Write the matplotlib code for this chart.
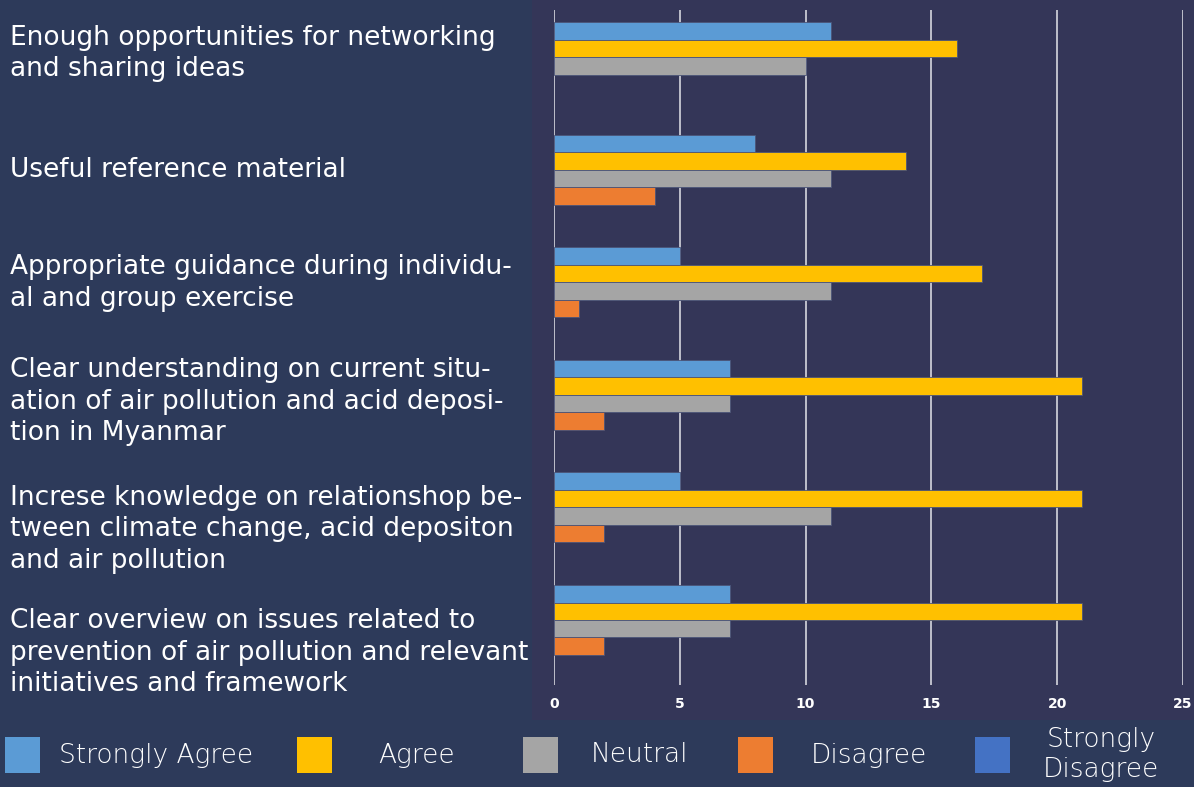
import numpy as np
import matplotlib.pyplot as plt
from matplotlib.patches import Rectangle

''' Data '''
categories = [
    'Enough opportunities for networking\nand sharing ideas',
    'Useful reference material',
    'Appropriate guidance during individu-\nal and group exercise',
    'Clear understanding on current situ-\nation of air pollution and acid deposi-\ntion in Myanmar',
    'Increse knowledge on relationshop be-\ntween climate change, acid depositon\nand air pollution',
    'Clear overview on issues related to\nprevention of air pollution and relevant\ninitiatives and framework',
]
series = ['Strongly Agree', 'Agree', 'Neutral', 'Disagree', 'Strongly\nDisagree']
strongly_agree = [11, 8, 5, 7, 5, 7]
agree = [16, 14, 17, 21, 21, 21]
neutral = [10, 11, 11, 7, 11, 7]
disagree = [0, 4, 1, 2, 2, 2]
strongly_disagree = [0, 0, 0, 0, 0, 0]
xticks = [0, 5, 10, 15, 20, 25]

''' Style '''
colors = ['#5B9BD5', '#FFC000', '#A5A5A5', '#ED7D31', '#4472C4']
bgLeft = '#2D3A5A'
bgPlot = '#343658'
gridColor = '#C9CAD4'
# vertical nudge of category labels in pixels (labels are placed by hand in the original)
labelNudge = [12, 8, 8, 2, -13, -24]
legendPatchX = [5, 297, 523, 738, 975]
legendTextX = [156, 417, 640, 869, 1101]

W, H = 1194, 787
fig = plt.figure(figsize=(W / 100, H / 100), dpi=100, facecolor=bgLeft)
fig.add_artist(Rectangle((532 / W, 1 - 720 / H), 1 - 532 / W, 720 / H,
                         transform=fig.transFigure, facecolor=bgPlot, edgecolor='none', zorder=0))

ax = fig.add_axes([554 / W, 1 - 685 / H, (1183 - 554) / W, (685 - 9.5) / H])
ax.set_facecolor('none')

values = [strongly_agree, agree, neutral, disagree, strongly_disagree]
y = np.arange(len(categories))
h = 0.155
for j, (vals, col) in enumerate(zip(values, colors)):
    edges = ['#4B5478' if v > 0 else 'none' for v in vals]
    ax.barh(y + (j - 2) * h, vals, height=h, color=col, edgecolor=edges, linewidth=0.6, zorder=3)

ax.set_xlim(0, 25)
ax.set_ylim(len(categories) - 0.5, -0.5)
ax.set_xticks(xticks)
ax.set_xticklabels([str(t) for t in xticks])
ax.tick_params(axis='x', length=0, pad=9, labelsize=10, labelcolor='white')
for lbl in ax.get_xticklabels():
    lbl.set_fontweight('bold')
ax.set_yticks([])
ax.grid(axis='x', color=gridColor, linewidth=1.3, zorder=1)
for s in ax.spines.values():
    s.set_visible(False)

# category labels on the left
for i, (cat, nud) in enumerate(zip(categories, labelNudge)):
    yp = ax.transData.transform((0, i))[1] + nud
    fig.text(10 / W, yp / H, cat, ha='left', va='center', color='white',
             fontsize=19, linespacing=1.27, family='DejaVu Sans')

# legend drawn by hand
for name, col, px, tx in zip(series, colors, legendPatchX, legendTextX):
    fig.add_artist(Rectangle((px / W, 1 - 773 / H), 35 / W, 36 / H, transform=fig.transFigure,
                             facecolor=col, edgecolor='none'))
    fig.text(tx / W, 1 - 755 / H, name, ha='center', va='center', color='white',
             fontsize=19, linespacing=1.25, family='DejaVu Sans', fontweight='light')

fig.savefig('out.png', dpi=100, facecolor=bgLeft)
